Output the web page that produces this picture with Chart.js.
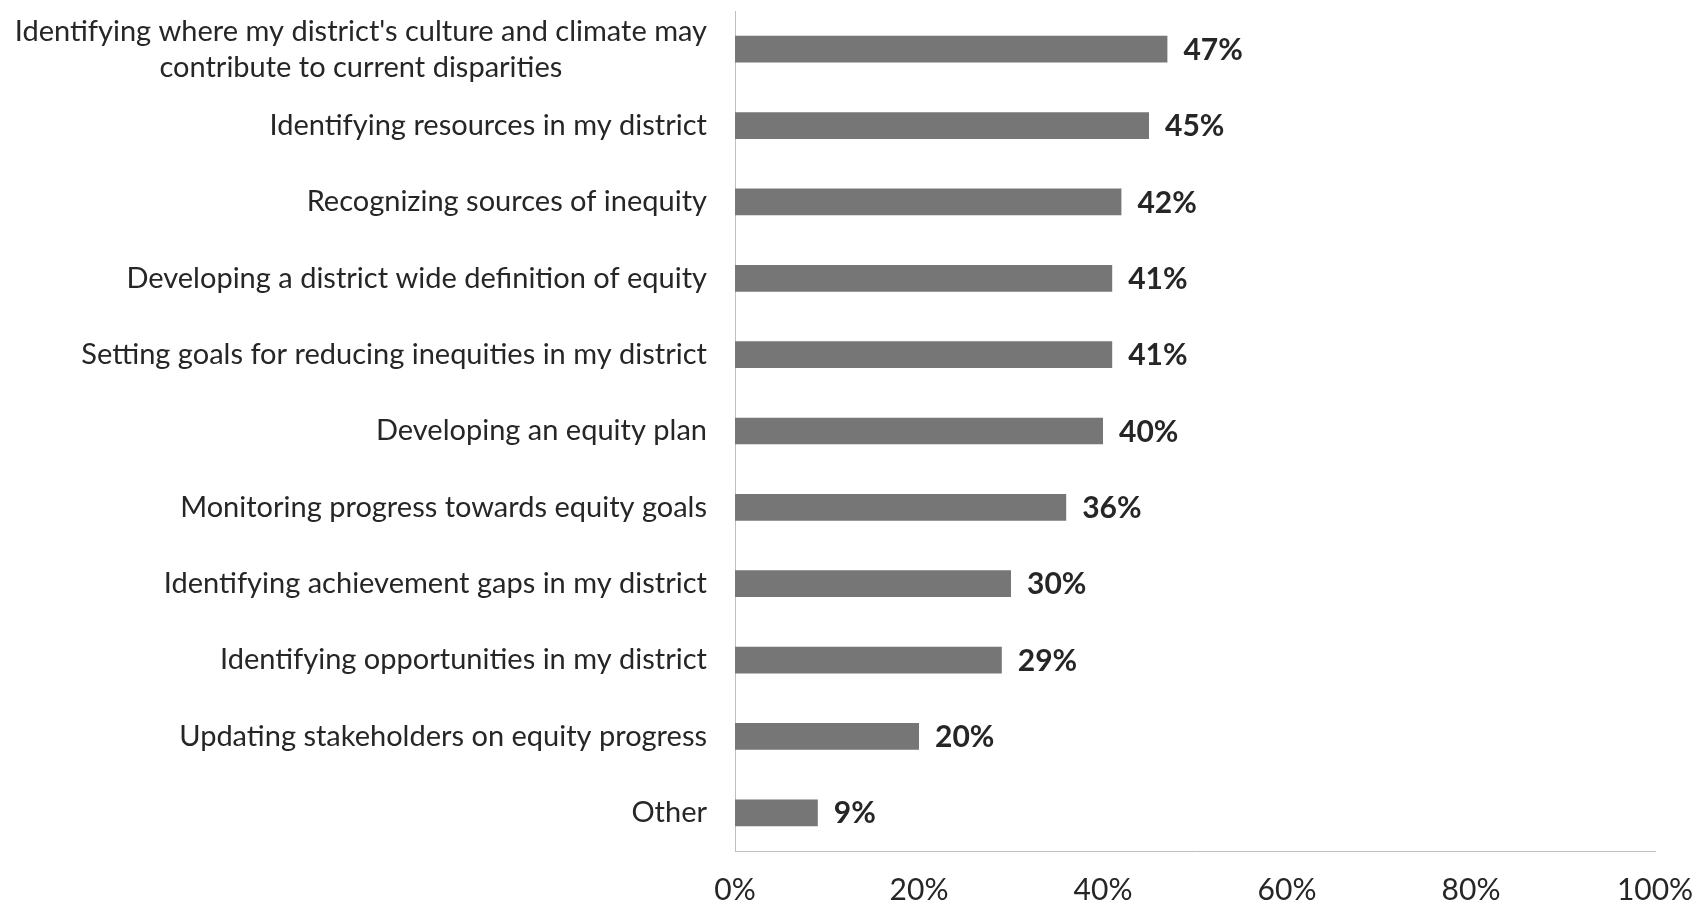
<!DOCTYPE html>
<html>
<head>
<meta charset="utf-8">
<script src="https://cdn.jsdelivr.net/npm/chart.js@4"></script>
<style>
    html, body { margin: 0; padding: 0; background: #fff; overflow: hidden; }
    canvas { display: block; }
</style>
</head>
<body>
<canvas id="equity-chart" width="1696" height="905"></canvas>
<script>
const categories = [
    ["Identifying where my district's culture and climate may", "contribute to current disparities"],
    "Identifying resources in my district",
    "Recognizing sources of inequity",
    "Developing a district wide definition of equity",
    "Setting goals for reducing inequities in my district",
    "Developing an equity plan",
    "Monitoring progress towards equity goals",
    "Identifying achievement gaps in my district",
    "Identifying opportunities in my district",
    "Updating stakeholders on equity progress",
    "Other"
];
const percentages = [47, 45, 42, 41, 41, 40, 36, 30, 29, 20, 9];
const xTicks = [0, 20, 40, 60, 80, 100];

const FONT = 'Lato, "Open Sans", sans-serif';
const TEXT = '#262626';

// category labels: right aligned, wrapped lines centred on each other
const categoryLabels = {
    id: 'categoryLabels',
    afterDraw(chart) {
        const ctx = chart.ctx;
        const y = chart.scales.y;
        const right = chart.chartArea.left - 28;
        ctx.save();
        ctx.font = '29px ' + FONT;
        ctx.fillStyle = TEXT;
        ctx.textAlign = 'center';
        ctx.textBaseline = 'middle';
        categories.forEach(function (label, i) {
            const lines = Array.isArray(label) ? label : [label];
            const maxW = Math.max.apply(null, lines.map(l => ctx.measureText(l).width));
            const cx = right - maxW / 2;
            const cy = y.getPixelForValue(i);
            lines.forEach(function (line, k) {
                ctx.fillText(line, cx, cy + (k - (lines.length - 1) / 2) * 36);
            });
        });
        ctx.restore();
    }
};

// percentage next to each bar
const valueLabels = {
    id: 'valueLabels',
    afterDatasetsDraw(chart) {
        const ctx = chart.ctx;
        const meta = chart.getDatasetMeta(0);
        ctx.save();
        ctx.font = 'bold 30px ' + FONT;
        ctx.fillStyle = TEXT;
        ctx.textAlign = 'left';
        ctx.textBaseline = 'middle';
        meta.data.forEach(function (bar, i) {
            ctx.fillText(percentages[i] + '%', bar.x + 16, bar.y + 1);
        });
        ctx.restore();
    }
};

new Chart(document.getElementById('equity-chart'), {
    type: 'bar',
    data: {
        labels: categories,
        datasets: [{
            data: percentages,
            backgroundColor: '#767676',
            barPercentage: 1,
            categoryPercentage: 0.35
        }]
    },
    options: {
        indexAxis: 'y',
        responsive: false,
        animation: false,
        layout: { padding: { top: 11, left: 0, right: 0, bottom: 0 } },
        plugins: {
            legend: { display: false },
            tooltip: { enabled: false }
        },
        scales: {
            x: {
                min: 0,
                max: 100,
                afterBuildTicks(scale) {
                    scale.ticks = xTicks.map(v => ({ value: v }));
                },
                afterFit(scale) {
                    // keep the axis band tight and leave room for "100%"
                    scale.height = 54;
                    scale.paddingRight = 41;
                },
                grid: { display: false, drawTicks: false },
                border: { display: true, color: '#bfbfbf', width: 1 },
                ticks: {
                    padding: 21,
                    color: TEXT,
                    font: { family: FONT, size: 30 },
                    callback: v => v + '%'
                }
            },
            y: {
                grid: { display: false, drawTicks: false },
                border: { display: true, color: '#bfbfbf', width: 1 },
                ticks: { display: false },
                afterFit(scale) {
                    scale.width = 735;
                }
            }
        }
    },
    plugins: [categoryLabels, valueLabels]
});
</script>
</body>
</html>
